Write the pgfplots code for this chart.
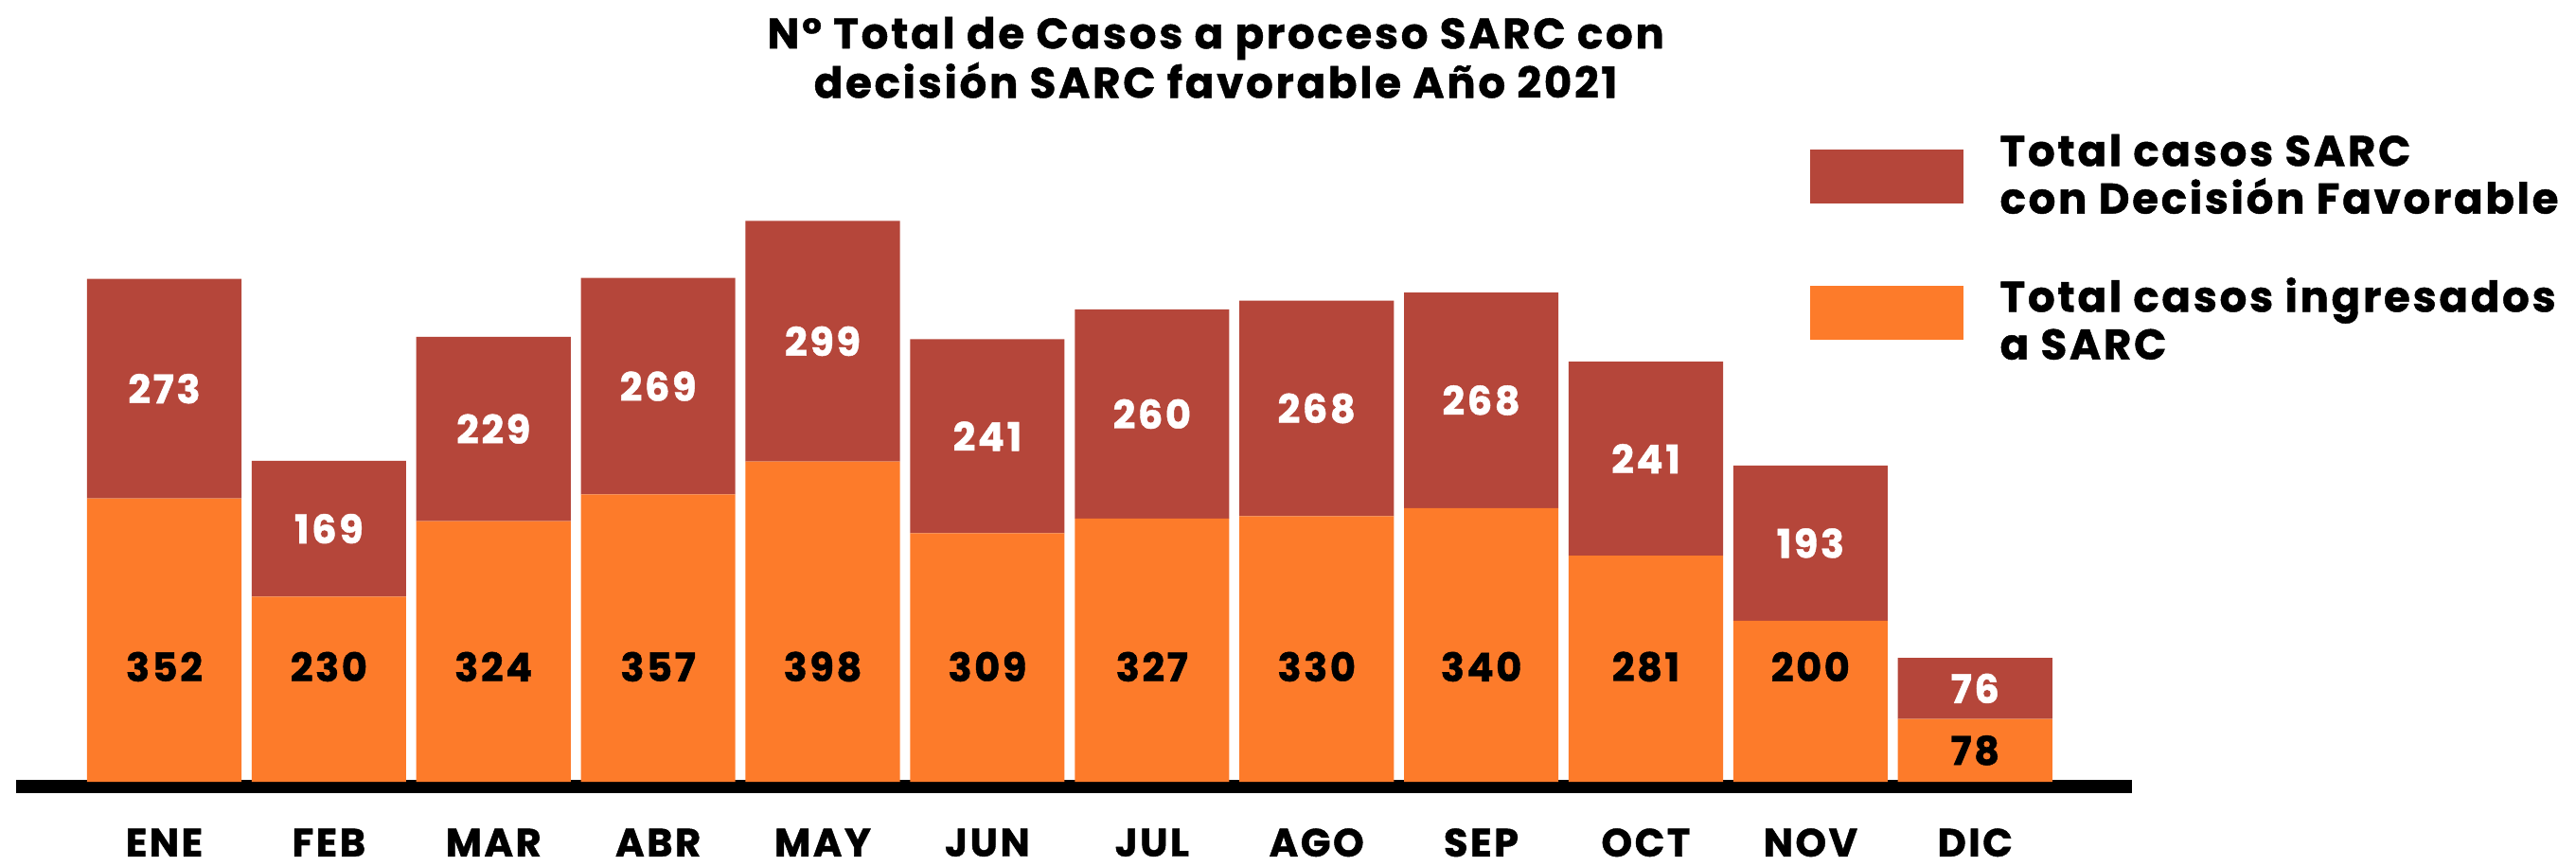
\documentclass[border=0pt]{standalone}
\usepackage{fontspec}
\setmainfont{Poppins}[LetterSpace=6]
\usepackage{pgfplots}
\pgfplotsset{compat=1.18}
\usepackage{pgfplotstable}
\definecolor{cred}{HTML}{B5463A}
\definecolor{corange}{HTML}{FD7B2A}
\pgfplotstableread{
x o r ly
0 352 273 143
1 230 169 143
2 324 229 143
3 357 269 143
4 398 299 143
5 309 241 143
6 327 260 143
7 330 268 143
8 340 268 143
9 281 241 143
10 200 193 143
11 78 76 39
}\datatable
\newcommand\lblfont{\fontsize{12}{14}\selectfont\bfseries\addfontfeature{FakeBold=1}}
\begin{document}
\begin{tikzpicture}
\pgfplotsset{common/.style={scale only axis, width=644pt, height=171.5pt,
  xmin=-0.898, xmax=11.956, ymin=0, ymax=700, clip=false,
  /pgf/number format/assume math mode=true}}
\begin{axis}[common,
  ybar stacked, bar width=0.938,
  axis x line=bottom, axis y line=none, axis line style={draw=none},
  xtick=data, xticklabels={ENE,FEB,MAR,ABR,MAY,JUN,JUL,AGO,SEP,OCT,NOV,DIC},
  major tick length=0pt,
  xticklabel style={anchor=center, yshift=-18.5pt, font=\lblfont},
]
\addplot[fill=corange, draw=none] table[x=x,y=o]{\datatable};
\addplot[fill=cred, draw=none] table[x=x,y=r]{\datatable};
\draw[line width=4pt] ([yshift=-1.5pt]rel axis cs:0,0) -- ([yshift=-1.5pt]rel axis cs:1,0);
\coordinate (O) at (rel axis cs:0,0);
\end{axis}
\begin{axis}[common, hide axis, point meta=explicit,
  nodes near coords, nodes near coords align={center}]
\addplot[draw=none, mark=none, nodes near coords style={anchor=center, text=black, font=\lblfont}]
  table[x=x,y=ly,meta=o]{\datatable};
\addplot[draw=none, mark=none, nodes near coords style={anchor=center, text=white, font=\lblfont}]
  table[x=x,y expr=\thisrow{o}+0.5*\thisrow{r},meta=r]{\datatable};
\end{axis}
\node[align=center, font=\fontsize{13}{15}\selectfont\bfseries\addfontfeature{FakeBold=1}] at ([shift={(365pt,220.5pt)}]O) {N° Total de Casos a proceso SARC con\\decisión SARC favorable Año 2021};
\fill[cred] ([shift={(546pt,176pt)}]O) rectangle ([shift={(592.5pt,192.5pt)}]O);
\fill[corange] ([shift={(546pt,134.5pt)}]O) rectangle ([shift={(592.5pt,151pt)}]O);
\node[anchor=west, align=left, inner sep=0pt, font=\fontsize{13}{14.5}\selectfont\bfseries\addfontfeature{FakeBold=1}] at ([shift={(603.5pt,185pt)}]O) {Total casos SARC\\con Decisión Favorable};
\node[anchor=west, align=left, inner sep=0pt, font=\fontsize{13}{14.5}\selectfont\bfseries\addfontfeature{FakeBold=1}] at ([shift={(603.5pt,141pt)}]O) {Total casos ingresados\\a SARC};
\pgfresetboundingbox
\path[use as bounding box] ([shift={(-5pt,-25.5pt)}]O) rectangle ([shift={(779pt,238pt)}]O);
\end{tikzpicture}
\end{document}
